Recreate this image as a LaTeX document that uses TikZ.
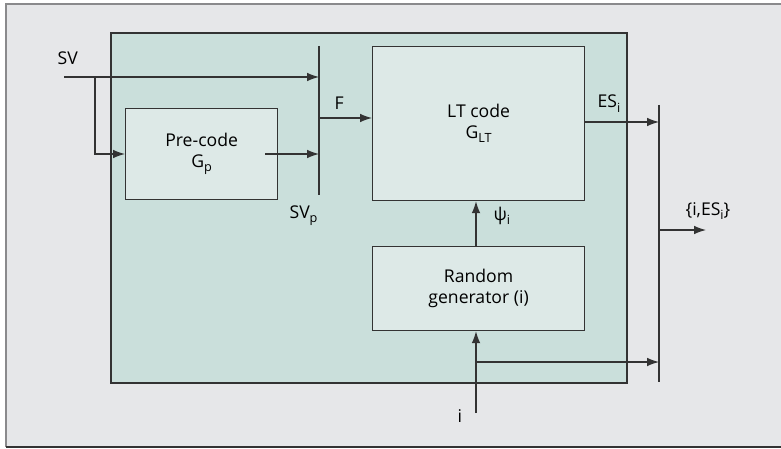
\documentclass[tikz,border=0pt]{standalone}
\usepackage{fontspec}
\setmainfont{Open Sans}
\usetikzlibrary{arrows.meta}
\definecolor{pagebg}{HTML}{E6E7E9}
\definecolor{blockbg}{HTML}{CADFDB}
\definecolor{boxbg}{HTML}{DDE9E7}
\definecolor{ink}{HTML}{333333}
\definecolor{rule}{HTML}{8A8A8C}
\newcommand\lo[1]{\raisebox{-0.45ex}{\fontsize{9.5}{10}\selectfont #1}}
\begin{document}
\begin{tikzpicture}[x=0.75pt,y=-0.75pt,
  line width=0.9pt,
  every node/.style={font=\fontsize{13.2}{15.5}\selectfont, text=black},
  unit/.style={draw=ink, fill=boxbg, line width=0.9pt, align=center, inner sep=0pt},
  lab/.style={anchor=base west, inner sep=0pt},
  sig/.style={draw=ink, -{Latex[length=9pt,width=6.5pt]}},
  bar/.style={draw=ink, line width=1pt}]
\useasboundingbox (0,0) rectangle (781,449);
% page background and frame
\fill[pagebg] (6,4) rectangle (781,447);
\draw[rule, line width=1.2pt] (781,4) -- (6,4) -- (6,447);
\draw[ink, line width=1.2pt] (6,447) -- (781,447);
% encoder block
\draw[ink, fill=blockbg] (111,33) rectangle (627,383);
% units
\node[unit, anchor=north west, minimum width=114pt, minimum height=68pt] (pre) at (125,108) {Pre-code\\G\lo{p}};
\node[unit, anchor=north west, minimum width=159pt, minimum height=115.5pt] (lt) at (372,46) {LT code\\G\lo{LT}};
\node[unit, anchor=north west, minimum width=159pt, minimum height=63pt] (rnd) at (372,246) {Random\\generator (i)};
% collection bars
\coordinate (b1t) at (319,46);
\coordinate (b1b) at (319,195);
\draw[bar] (b1t) -- (b1b);
\coordinate (b2t) at (659,105);
\coordinate (b2b) at (659,382);
\draw[bar] (b2t) -- (b2b);
% SV input and its branch to the pre-code
\coordinate (svin) at (64,77);
\coordinate (svsplit) at (95,77);
\coordinate (svdown) at (95,154);
\node[lab] (svlab) at (57,65) {SV};
\draw[sig] (svin) -- (svin -| b1t);
\draw[sig] (svsplit) -- (svdown) -- (svdown -| pre.west);
\coordinate (preout) at (265,154);
\draw[sig] (preout) -- (preout -| b1t);
\node[lab] (svp) at (289,218) {SV\lo{p}};
% F into the LT code
\coordinate (fout) at (319,118);
\draw[sig] (fout) -- (fout -| lt.west);
\node[lab] (flab) at (334,110) {F};
% encoded symbol out
\coordinate (esout) at (584,122);
\draw[sig] (esout) -- (esout -| b2t);
\node[lab] (eslab) at (597,108) {ES\lo{i}};
% psi from the random generator
\draw[sig] (rnd.north -| 476,0) -- (lt.south -| 476,0);
\node[lab] (psilab) at (493,220) {ψ\lo{i}};
% index i
\coordinate (iin) at (476,413);
\coordinate (isplit) at (476,362);
\draw[sig] (iin) -- (iin |- rnd.south);
\draw[sig] (isplit) -- (isplit -| b2t);
\node[lab] (ilab) at (457,422) {i};
% output
\coordinate (outs) at (659,230);
\coordinate (oute) at (706,230);
\draw[sig] (outs) -- (oute);
\node[lab] (outlab) at (685,215) {\{i,ES\lo{i}\}};
\end{tikzpicture}
\end{document}
